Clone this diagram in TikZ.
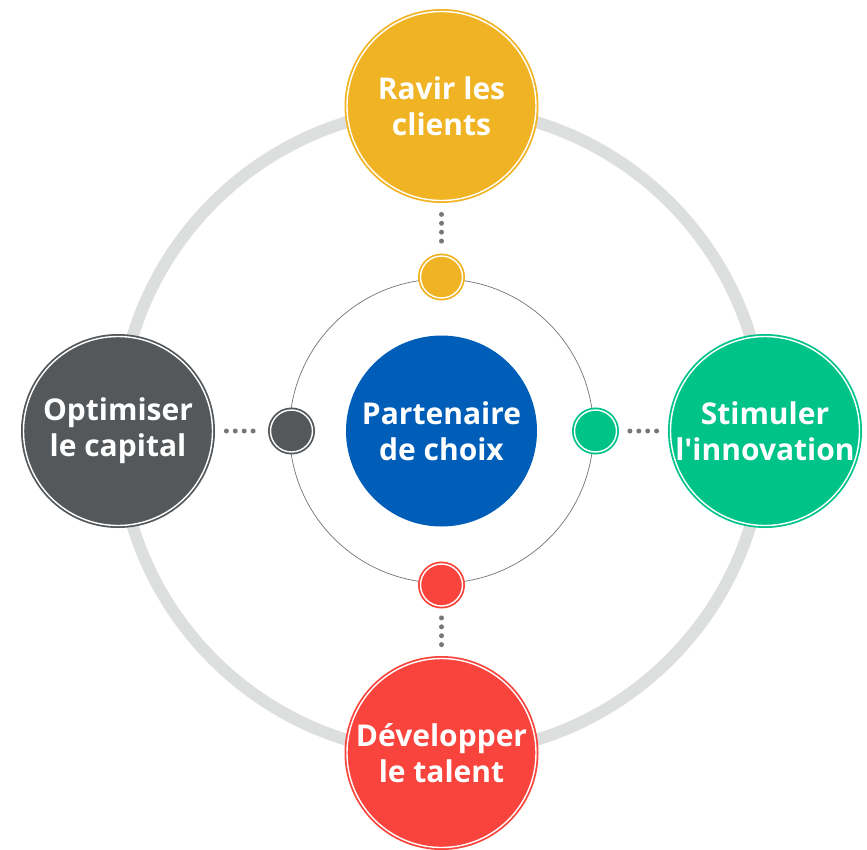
\documentclass[tikz,border=0pt]{standalone}
\usepackage{fontspec}
\newfontfamily\labelfont{Open Sans}
\usepackage{xcolor}
\usepackage{tikz}
\usetikzlibrary{positioning,calc}
\definecolor{hubcolor}{RGB}{0, 94, 184}
\definecolor{clientcolor}{RGB}{240, 179, 35}
\definecolor{innovcolor}{RGB}{0, 195, 137}
\definecolor{talentcolor}{RGB}{248, 68, 60}
\definecolor{capitalcolor}{RGB}{84, 88, 90}
\definecolor{dotcolor}{RGB}{117, 120, 123}
\definecolor{ringcolor}{RGB}{221, 222, 222}
\tikzset{
    pillar/.style={circle, minimum size=189pt, inner sep=0pt, fill=#1, draw=#1, line width=1.8pt, double=white, double distance=1.4pt, text=white, align=center, font=\labelfont\bfseries\fontsize{30}{36}\selectfont},
    hub/.style={circle, minimum size=191pt, inner sep=0pt, fill=hubcolor, text=white, align=center, font=\labelfont\bfseries\fontsize{30}{36}\selectfont},
    joint/.style={circle, minimum size=42pt, inner sep=0pt, fill=#1, draw=#1, line width=1.8pt, double=white, double distance=1.4pt},
    outer ring/.style={draw=ringcolor, line width=12pt},
    inner ring/.style={draw=black!55, line width=0.7pt},
    dots/.style={draw=dotcolor, line width=5pt, line cap=round, dash pattern=on 0pt off 8.9pt, shorten <=13pt, shorten >=10pt}
}

\begin{document}
\begin{tikzpicture}[x=1pt, y=-1pt]
    \useasboundingbox (0,0) rectangle (867,849);
    \coordinate (c) at (441.5,431);

    % Rings behind everything
    \draw[outer ring] (c) circle (323);
    \draw[inner ring] (c) circle (152);

    % Centre
    \node[hub] (hub) at (c) {Partenaire\\de choix};

    % Four pillars on the outer ring
    \node[pillar=clientcolor] (clients) at (441.5,106) {Ravir les\\clients};
    \node[pillar=innovcolor] (innov) at (765,431) {Stimuler\\l'innovation};
    \node[pillar=talentcolor] (talent) at (441.5,753) {Développer\\le talent};
    \node[pillar=capitalcolor] (capital) at (118,431) {Optimiser\\le capital};

    % Joints on the inner ring
    \node[joint=clientcolor] (jclients) at (441.5,277) {};
    \node[joint=innovcolor] (jinnov) at (595.5,431) {};
    \node[joint=talentcolor] (jtalent) at (441.5,585) {};
    \node[joint=capitalcolor] (jcapital) at (291.5,431) {};

    % Dotted links
    \foreach \p/\j in {clients/jclients, innov/jinnov, talent/jtalent, capital/jcapital}
        \draw[dots] (\p) -- (\j);
\end{tikzpicture}
\end{document}
